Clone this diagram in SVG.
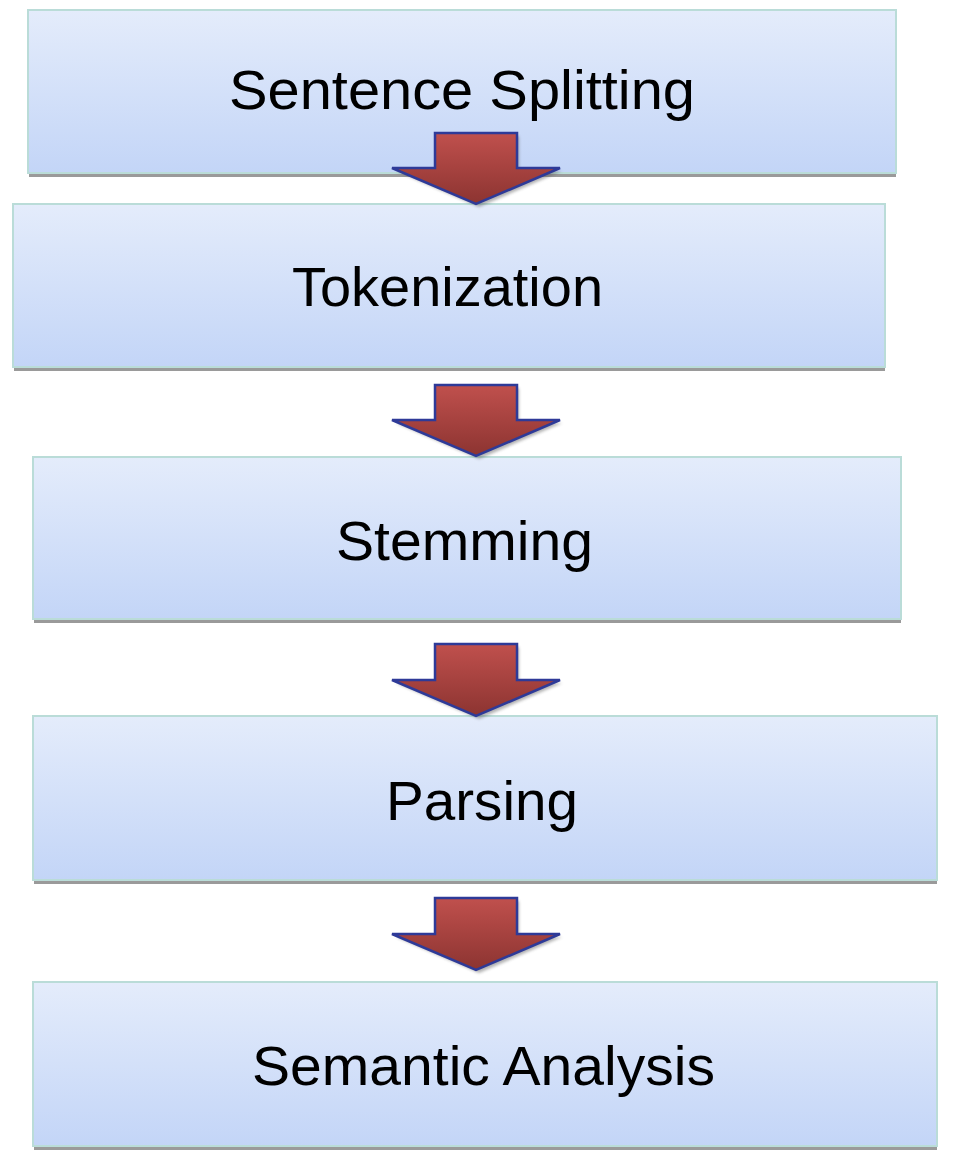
<svg xmlns="http://www.w3.org/2000/svg" width="962" height="1166" viewBox="0 0 962 1166">
  <defs>
    <linearGradient id="boxGrad" x1="0" y1="0" x2="0" y2="1">
      <stop offset="0" stop-color="#E4ECFB"/>
      <stop offset="1" stop-color="#C3D5F7"/>
    </linearGradient>
    <linearGradient id="arrowGrad" x1="0" y1="0" x2="0" y2="1">
      <stop offset="0" stop-color="#C0504D"/>
      <stop offset="1" stop-color="#8C3431"/>
    </linearGradient>
    <filter id="blur" x="-10%" y="-10%" width="120%" height="130%">
      <feGaussianBlur stdDeviation="1.5"/>
    </filter>
  </defs>
  <style>
    .box { fill: url(#boxGrad); stroke: #BADCD8; stroke-width: 2; }
    .shadow { fill: #9A9A9A; }
    .label { font-family: "Liberation Sans", Arial, sans-serif; font-size: 56px; fill: #000; text-anchor: middle; }
    .arrow { fill: url(#arrowGrad); stroke: #2E3A98; stroke-width: 2.5; stroke-linejoin: miter; }
    .arrowShadow { fill: #555; opacity: 0.45; }
  </style>
  <rect width="962" height="1166" fill="#FFFFFF"/>

  <g id="node-sentence-splitting">
    <rect class="shadow" x="29" y="172" width="867" height="5"/>
    <rect class="box" x="28" y="10" width="868" height="163"/>
    <text class="label" x="462" y="109" textLength="466" lengthAdjust="spacingAndGlyphs">Sentence Splitting</text>
  </g>
  <g id="node-tokenization">
    <rect class="shadow" x="14" y="366" width="871" height="5"/>
    <rect class="box" x="13" y="204" width="872" height="163"/>
    <text class="label" x="447.5" y="306" textLength="311" lengthAdjust="spacingAndGlyphs">Tokenization</text>
  </g>
  <g id="node-stemming">
    <rect class="shadow" x="34" y="618" width="867" height="5"/>
    <rect class="box" x="33" y="457" width="868" height="162"/>
    <text class="label" x="464.5" y="560" textLength="257" lengthAdjust="spacingAndGlyphs">Stemming</text>
  </g>
  <g id="node-parsing">
    <rect class="shadow" x="34" y="879" width="903" height="5"/>
    <rect class="box" x="33" y="716" width="904" height="164"/>
    <text class="label" x="482" y="820" textLength="192" lengthAdjust="spacingAndGlyphs">Parsing</text>
  </g>
  <g id="node-semantic-analysis">
    <rect class="shadow" x="34" y="1145" width="903" height="5"/>
    <rect class="box" x="33" y="982" width="904" height="164"/>
    <text class="label" x="483.5" y="1085" textLength="463" lengthAdjust="spacingAndGlyphs">Semantic Analysis</text>
  </g>

  <g id="connectors">
    <g id="arrow-1">
      <path class="arrowShadow" filter="url(#blur)" d="M437 136 H519 V171 H562 L479 207 L396 171 H437 Z"/>
      <path class="arrow" d="M435 133 H517 V168 H560 L476 204 L392 168 H435 Z"/>
    </g>
    <g id="arrow-2">
      <path class="arrowShadow" filter="url(#blur)" d="M437 388 H519 V423 H562 L479 459 L396 423 H437 Z"/>
      <path class="arrow" d="M435 385 H517 V420 H560 L476 456 L392 420 H435 Z"/>
    </g>
    <g id="arrow-3">
      <path class="arrowShadow" filter="url(#blur)" d="M437 647 H519 V683 H562 L479 719 L396 683 H437 Z"/>
      <path class="arrow" d="M435 644 H517 V680 H560 L476 716 L392 680 H435 Z"/>
    </g>
    <g id="arrow-4">
      <path class="arrowShadow" filter="url(#blur)" d="M437 901 H519 V937 H562 L479 973 L396 937 H437 Z"/>
      <path class="arrow" d="M435 898 H517 V934 H560 L476 970 L392 934 H435 Z"/>
    </g>
  </g>
</svg>
